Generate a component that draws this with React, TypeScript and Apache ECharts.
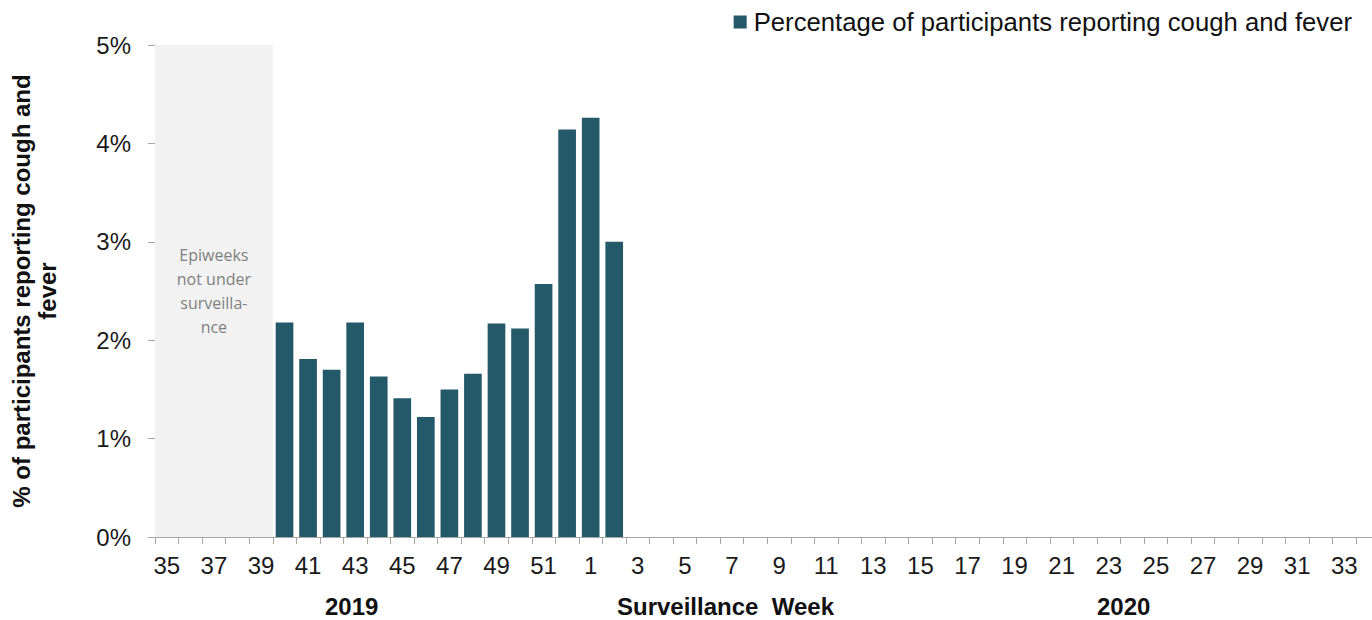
import React, { useEffect, useRef } from "react";
import * as echarts from "echarts";

// Surveillance weeks: 2019 weeks 35–52, then 2020 weeks 1–34
const weeks2019 = ["35","36","37","38","39","40","41","42","43","44","45","46","47","48","49","50","51","52"];
const weeks2020 = ["1","2","3","4","5","6","7","8","9","10","11","12","13","14","15","16","17","18","19","20","21","22","23","24","25","26","27","28","29","30","31","32","33","34"];
const categories = [...weeks2019, ...weeks2020];

// Weeks with data and the percentage reporting cough and fever
const reportedWeeks = ["40","41","42","43","44","45","46","47","48","49","50","51","52","1","2"];
const reportedPct = [2.18, 1.81, 1.70, 2.18, 1.63, 1.41, 1.22, 1.50, 1.66, 2.17, 2.12, 2.57, 4.14, 4.26, 3.00];

const yTicks = [0, 1, 2, 3, 4, 5];
const unsurveilledFrom = "35";
const unsurveilledTo = "39";

const seriesName = "Percentage of participants reporting cough and fever";

export default function App() {
  const ref = useRef<HTMLDivElement>(null);
  useEffect(() => {
    if (!ref.current) return;
    const chart = echarts.init(ref.current, null, { renderer: "svg" });
    const data = categories.map((w) => {
      const i = reportedWeeks.indexOf(w);
      return i >= 0 ? reportedPct[i] : null;
    });
    const font = "'Liberation Sans', Arial, sans-serif";
    chart.setOption({
      animation: false,
      textStyle: { fontFamily: font },
      legend: {
        show: true,
        top: 4,
        right: 33,
        itemWidth: 13,
        itemHeight: 13,
        icon: "rect",
        itemGap: 5,
        textStyle: { fontSize: 25.7, color: "#111", fontFamily: font, padding: [0, 0, 0, 2] },
        data: [seriesName],
      },
      grid: { left: 155, right: 10.4, top: 45, height: 492, containLabel: false, outerBoundsMode: "none" },
      xAxis: {
        type: "category",
        data: categories,
        boundaryGap: true,
        axisLine: { lineStyle: { color: "#a6a6a6", width: 1 } },
        axisTick: { show: true, alignWithLabel: false, interval: 0, length: 7, lineStyle: { color: "#a6a6a6" } },
        axisLabel: { interval: 1, fontSize: 24, color: "#1a1a1a", margin: 16, fontFamily: font },
        splitLine: { show: false },
      },
      yAxis: {
        type: "value",
        min: yTicks[0],
        max: yTicks[yTicks.length - 1],
        interval: 1,
        axisLine: { show: true, lineStyle: { color: "#a6a6a6", width: 1 } },
        axisTick: { show: true, length: 7, lineStyle: { color: "#a6a6a6" } },
        axisLabel: { formatter: "{value}%", fontSize: 24, color: "#1a1a1a", margin: 24, fontFamily: font },
        splitLine: { show: false },
        name: "% of participants reporting cough and\nfever",
        nameLocation: "middle",
        nameRotate: 90,
        nameGap: 95,
        nameTextStyle: { fontSize: 24, fontWeight: "bold", color: "#111", lineHeight: 26, fontFamily: font },
      },
      graphic: [
        { type: "text", left: 353 - 28, top: 594, style: { text: "2019", font: `bold 24px ${font}`, fill: "#111" } },
        { type: "text", left: 617, top: 594, style: { text: "Surveillance  Week", font: `bold 24px ${font}`, fill: "#111" } },
        { type: "text", left: 1125 - 28, top: 594, style: { text: "2020", font: `bold 24px ${font}`, fill: "#111" } },
      ],
      series: [
        {
          name: seriesName,
          type: "bar",
          data,
          barCategoryGap: "25%",
          itemStyle: { color: "#235968" },
          markArea: {
            silent: true,
            itemStyle: { color: "#f2f2f2" },
            label: {
              show: true,
              position: "inside",
              formatter: "Epiweeks\nnot under\nsurveilla-\nnce",
              fontFamily: "'Open Sans', sans-serif",
              fontSize: 16,
              lineHeight: 24,
              color: "#808080",
              align: "center",
            },
            data: [[{ xAxis: unsurveilledFrom, yAxis: yTicks[yTicks.length - 1] }, { xAxis: unsurveilledTo, yAxis: yTicks[0] }]],
          },
        },
      ],
    });
    return () => chart.dispose();
  }, []);
  return (
    <div
      ref={ref}
      style={{ position: "fixed", left: 0, top: 0, width: 1390, height: 620, background: "#fff" }}
    />
  );
}
